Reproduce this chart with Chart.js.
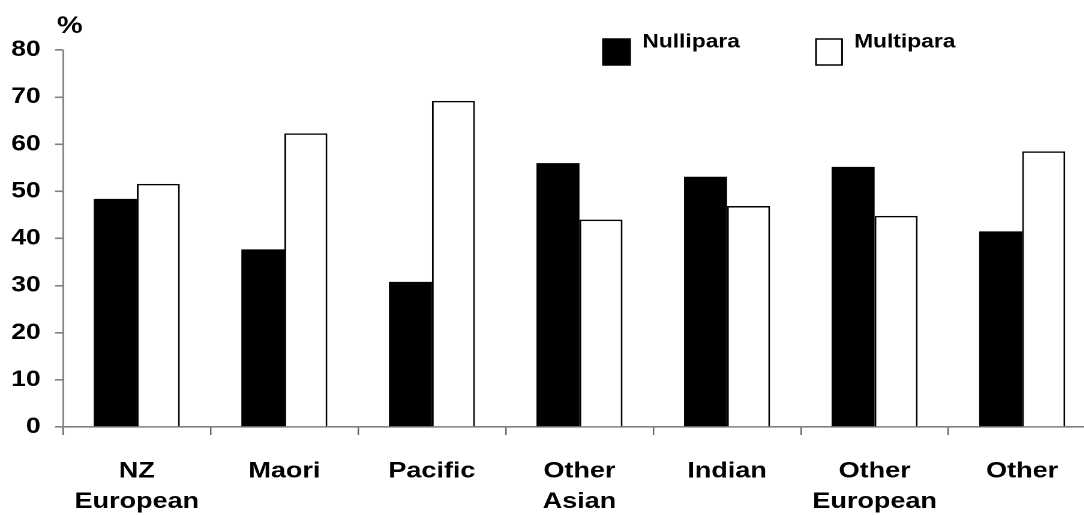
<!DOCTYPE html>
<html>
<head>
<meta charset="utf-8">
<title>Nullipara / Multipara by ethnicity</title>
<script src="https://cdn.jsdelivr.net/npm/chart.js@4.4.1/dist/chart.umd.min.js"></script>
<style>
  html, body { margin: 0; padding: 0; background: #fff; overflow: hidden; }
  #wrap {
    width: 916px; height: 515px;
    transform: scaleX(1.2); transform-origin: 0 0;
  }
</style>
</head>
<body>
<div id="wrap"><canvas id="chart"></canvas></div>
<script>
// Ethnic groups shown on the x axis
const categories = [
  ['NZ', 'European'], 'Maori', 'Pacific', ['Other', 'Asian'],
  'Indian', ['Other', 'European'], 'Other'
];
// Share of women (%) in each group
const nullipara = [48.4, 37.7, 30.8, 56.0, 53.1, 55.2, 41.5];
const multipara = [51.6, 62.3, 69.2, 44.0, 46.9, 44.8, 58.5];
const seriesNames = ['Nullipara', 'Multipara'];
// Y axis range
const yMin = 0, yMax = 80, yStep = 10;

const FONT = '"Liberation Sans", Arial, Helvetica, sans-serif';
const AXIS = '#808080';

// Legend boxes and the unit label above the y axis
const overlay = {
  id: 'overlay',
  afterDraw(chart) {
    const ctx = chart.ctx;
    ctx.save();
    ctx.fillStyle = '#000';
    ctx.font = 'bold 24px ' + FONT;
    ctx.textAlign = 'left';
    ctx.textBaseline = 'alphabetic';
    ctx.fillText('%', 47.5, 33);

    const items = [
      { x: 502.5, w: 22.5, tx: 535.3 },
      { x: 680.0, w: 21.7, tx: 711.7 }
    ];
    ctx.font = 'bold 19px ' + FONT;
    chart.data.datasets.forEach((ds, i) => {
      const it = items[i];
      ctx.fillStyle = ds.backgroundColor;
      ctx.fillRect(it.x, 39, it.w, 26);
      ctx.lineWidth = 1.5;
      ctx.strokeStyle = '#000';
      ctx.strokeRect(it.x, 39, it.w, 26);
      ctx.fillStyle = '#000';
      ctx.fillText(ds.label, it.tx, 47.7);
    });
    ctx.restore();
  }
};

new Chart(document.getElementById('chart'), {
  type: 'bar',
  data: {
    labels: categories,
    datasets: [
      {
        label: seriesNames[0],
        data: nullipara,
        backgroundColor: '#000000',
        borderColor: '#000000',
        borderWidth: 0
      },
      {
        label: seriesNames[1],
        data: multipara,
        backgroundColor: '#ffffff',
        borderColor: '#000000',
        borderWidth: 1.5
      }
    ]
  },
  options: {
    responsive: true,
    maintainAspectRatio: false,
    devicePixelRatio: 2,
    animation: false,
    layout: { padding: { top: 50, right: 2.7, bottom: 0, left: 0 } },
    datasets: {
      bar: { categoryPercentage: 0.583, barPercentage: 1.0 }
    },
    plugins: {
      legend: { display: false },
      tooltip: { enabled: false }
    },
    scales: {
      x: {
        grid: {
          display: true,
          offset: true,
          drawOnChartArea: false,
          drawTicks: true,
          tickLength: 8,
          color: '#606060',
          lineWidth: 1.2
        },
        border: { display: true, color: AXIS, width: 1.6 },
        ticks: {
          color: '#000',
          font: { family: FONT, size: 22.5, weight: 'bold', lineHeight: 1.36 },
          padding: 21,
          maxRotation: 0,
          autoSkip: false
        },
        afterFit(scale) { scale.height = 88; }
      },
      y: {
        min: yMin,
        max: yMax,
        grid: {
          display: true,
          drawOnChartArea: false,
          drawTicks: true,
          tickLength: 6.7,
          color: AXIS,
          lineWidth: 1.6
        },
        border: { display: true, color: AXIS, width: 1.4 },
        ticks: {
          stepSize: yStep,
          color: '#000',
          font: { family: FONT, size: 22, weight: 'bold' },
          padding: 11.9
        },
        afterFit(scale) { scale.width = 52.5; }
      }
    }
  },
  plugins: [overlay]
});
</script>
</body>
</html>
